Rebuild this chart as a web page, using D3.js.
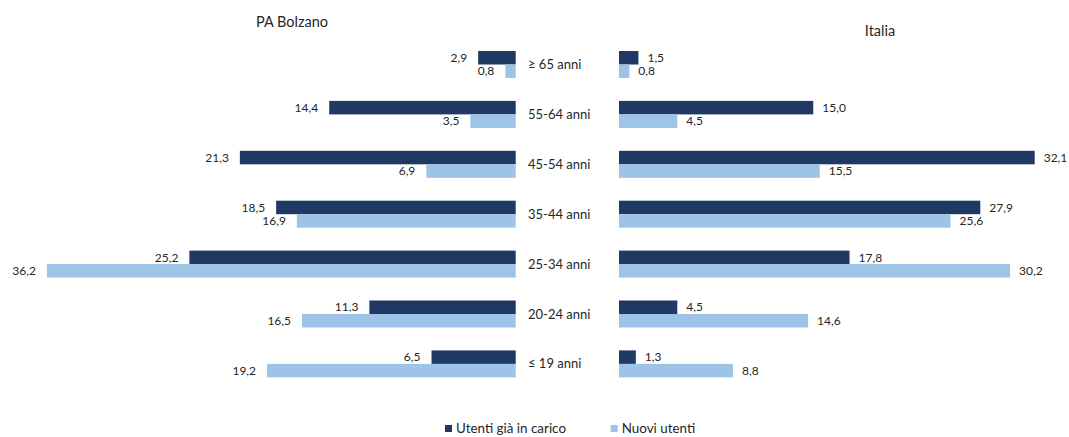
<!DOCTYPE html>
<html>
<head>
<meta charset="utf-8">
<script src="https://cdn.jsdelivr.net/npm/d3@7"></script>
<style>
  html, body { margin: 0; padding: 0; background: #fff; }
  svg { display: block; font-family: Lato, "Open Sans", "Liberation Sans", sans-serif; }
</style>
</head>
<body>
<svg id="chart" width="1069" height="437"></svg>
<script>
// Age groups, top to bottom
const categories = ["≥ 65 anni", "55-64 anni", "45-54 anni", "35-44 anni", "25-34 anni", "20-24 anni", "≤ 19 anni"];
const seriesNames = ["Utenti già in carico", "Nuovi utenti"];

// PA Bolzano (%)
const bolzanoInCarico = [2.9, 14.4, 21.3, 18.5, 25.2, 11.3, 6.5];
const bolzanoNuovi    = [0.8, 3.5, 6.9, 16.9, 36.2, 16.5, 19.2];

// Italia (%)
const italiaInCarico  = [1.5, 15.0, 32.1, 27.9, 17.8, 4.5, 1.3];
const italiaNuovi     = [0.8, 4.5, 15.5, 25.6, 30.2, 14.6, 8.8];

const colors = ["#1f3864", "#9dc3e6"];
const fmt = v => v.toFixed(1).replace(".", ",");

const svg = d3.select("#chart");

const zeroLeft = 515.7, zeroRight = 619;
const len = d3.scaleLinear().domain([0, 40]).range([0, 40 * 12.95]);

const rowStep = 49.9, nRows = categories.length, rowTop = 64.5 - rowStep / 2;
const pad = 1 - 27 / rowStep;
const y = d3.scaleBand().domain(categories)
  .range([rowTop, rowTop + nRows * rowStep]).paddingInner(pad).paddingOuter(pad / 2);
const ySub = d3.scaleBand().domain([0, 1]).range([0, y.bandwidth()]);

function panel(seriesA, seriesB, side) {
  const g = svg.append("g");
  const data = [];
  categories.forEach((c, i) => {
    data.push({ c, s: 0, v: seriesA[i] });
    data.push({ c, s: 1, v: seriesB[i] });
  });
  const x0 = side === "left" ? zeroLeft : zeroRight;
  g.selectAll("rect").data(data).join("rect")
    .attr("x", d => side === "left" ? x0 - len(d.v) : x0)
    .attr("y", d => y(d.c) + ySub(d.s))
    .attr("width", d => len(d.v))
    .attr("height", ySub.bandwidth())
    .attr("fill", d => colors[d.s]);
  g.selectAll("text").data(data).join("text")
    .attr("x", d => side === "left" ? x0 - len(d.v) - 11 : x0 + len(d.v) + 9)
    .attr("y", d => y(d.c) + ySub(d.s) + ySub.bandwidth() / 2)
    .attr("dy", "0.35em")
    .attr("text-anchor", side === "left" ? "end" : "start")
    .attr("font-size", 12)
    .attr("fill", "#262626")
    .text(d => fmt(d.v));
}

panel(bolzanoInCarico, bolzanoNuovi, "left");
panel(italiaInCarico, italiaNuovi, "right");

// Category labels between the two panels
svg.append("g").selectAll("text").data(categories).join("text")
  .attr("x", 528)
  .attr("y", d => y(d) + y.bandwidth() / 2)
  .attr("dy", "0.35em")
  .attr("font-size", 13)
  .attr("fill", "#262626")
  .text(d => d);

// Panel titles
svg.append("text").attr("x", 292).attr("y", 26.5).attr("text-anchor", "middle")
  .attr("font-size", 14.5).attr("fill", "#262626").text("PA Bolzano");
svg.append("text").attr("x", 880).attr("y", 36).attr("text-anchor", "middle")
  .attr("font-size", 14.5).attr("fill", "#262626").text("Italia");

// Legend
const legendX = [445, 610.7];
const lg = svg.append("g").selectAll("g").data(seriesNames).join("g")
  .attr("transform", (d, i) => `translate(${legendX[i]},425)`);
lg.append("rect").attr("width", 7).attr("height", 7).attr("fill", (d, i) => colors[i]);
lg.append("text").attr("x", 11).attr("y", 3.5).attr("dy", "0.35em")
  .attr("font-size", 13.4).attr("fill", "#262626").text(d => d);
</script>
</body>
</html>
